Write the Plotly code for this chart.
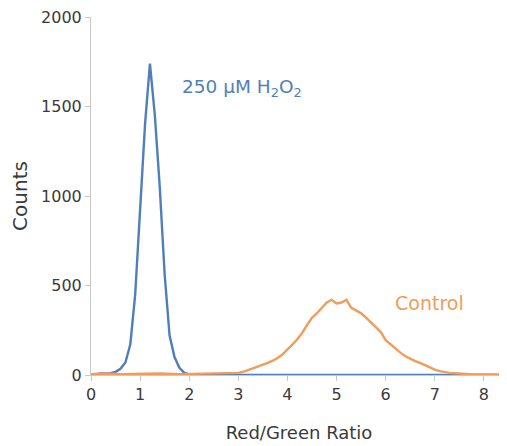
import plotly.graph_objects as go

# Blue series: 250 µM H2O2
h2o2_ratio = [0.0, 0.1, 0.2, 0.3, 0.4, 0.5, 0.6, 0.7, 0.8, 0.9, 1.0, 1.1, 1.2, 1.3, 1.4,
              1.5, 1.6, 1.7, 1.8, 1.9, 2.0, 2.2, 3.0, 4.0, 5.0, 6.0, 7.0, 8.0, 8.6]
h2o2_counts = [0, 5, 8, 8, 10, 18, 35, 70, 170, 450, 950, 1400, 1740, 1450, 1050,
               560, 220, 100, 40, 12, 3, 0, 0, 0, 0, 0, 0, 0, 0]

# Orange series: Control
ctrl_ratio = [0.0, 0.3, 0.6, 1.0, 1.4, 1.8, 2.2, 2.6, 2.9, 3.0, 3.1, 3.2, 3.3, 3.4, 3.5,
              3.6, 3.7, 3.8, 3.9, 4.0, 4.1, 4.2, 4.3, 4.4, 4.5, 4.6, 4.7, 4.8, 4.9,
              5.0, 5.1, 5.2, 5.3, 5.4, 5.5, 5.6, 5.7, 5.8, 5.9, 6.0, 6.1, 6.2, 6.3,
              6.4, 6.5, 6.6, 6.7, 6.8, 6.9, 7.0, 7.1, 7.2, 7.3, 7.4, 7.5, 7.7, 8.0, 8.3, 8.6]
ctrl_counts = [5, 8, 4, 6, 8, 5, 7, 6, 8, 12, 18, 28, 36, 45, 55,
               68, 80, 95, 115, 140, 170, 200, 235, 280, 320, 345, 375, 405, 420,
               400, 405, 420, 375, 360, 345, 320, 295, 270, 240, 195, 170, 145, 125,
               105, 90, 78, 68, 55, 40, 30, 22, 15, 12, 10, 8, 5, 3, 4, 2]

x_ticks = [0, 1, 2, 3, 4, 5, 6, 7, 8]
y_ticks = [0, 500, 1000, 1500, 2000]

BLUE = "#4f7fbb"
ORANGE = "#f09c5a"
FONT = "DejaVu Sans"
TEXT = "#3a3a3a"

fig = go.Figure()
fig.add_trace(go.Scatter(x=h2o2_ratio, y=h2o2_counts, mode="lines",
                         line=dict(color=BLUE, width=2.4), showlegend=False))
fig.add_trace(go.Scatter(x=ctrl_ratio, y=ctrl_counts, mode="lines",
                         line=dict(color=ORANGE, width=2.4), showlegend=False))

fig.add_annotation(x=1.81, y=1605, xref="x", yref="y", text="250 µM H<sub>2</sub>O<sub>2</sub>",
                   showarrow=False, xanchor="left", yanchor="middle",
                   font=dict(family=FONT, size=18.5, color=BLUE))
fig.add_annotation(x=6.15, y=400, xref="x", yref="y", text="Control",
                   showarrow=False, xanchor="left", yanchor="middle",
                   font=dict(family=FONT, size=19, color=ORANGE))

fig.update_layout(
    width=499, height=438,
    margin=dict(l=83, r=0, t=9, b=71),
    paper_bgcolor="white", plot_bgcolor="white",
    font=dict(family=FONT, size=16, color=TEXT),
    xaxis=dict(range=[0, 8.47], tickvals=x_ticks, showgrid=False, zeroline=False,
               showline=True, linecolor="#c8c8c8", linewidth=1,
               ticks="outside", ticklen=5, tickcolor="#c8c8c8",
               ticklabeloverflow="allow",
               title=dict(text="Red/Green Ratio", font=dict(size=18), standoff=23)),
    yaxis=dict(range=[0, 2000], tickvals=y_ticks, showgrid=False, zeroline=False,
               showline=True, linecolor="#c8c8c8", linewidth=1,
               ticks="outside", ticklen=5, tickcolor="#c8c8c8",
               ticklabeloverflow="allow",
               title=dict(text="Counts", font=dict(size=20), standoff=12)),
)

fig.write_html("out.html")
